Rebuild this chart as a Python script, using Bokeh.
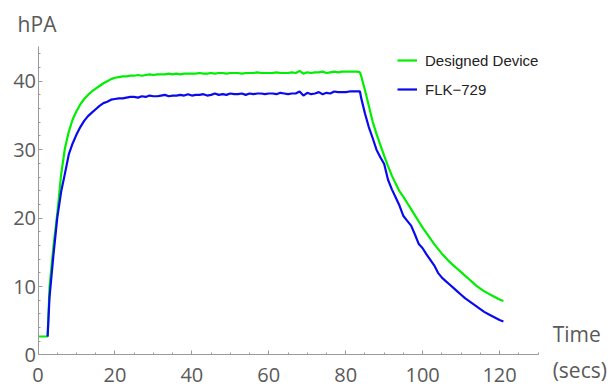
from bokeh.plotting import figure
from bokeh.models import Range1d, FixedTicker, Label
from bokeh.embed import file_html
from bokeh.resources import INLINE

# ---------------- data ----------------
t_green = [0, 1, 2, 2.5, 3, 4, 5, 6, 7, 8, 9, 10, 11, 12, 13, 14, 15, 16, 17, 18,
           19, 20, 21, 22, 23, 24, 25, 26, 27, 28, 29, 30, 31, 32, 33, 34, 35, 36, 37, 38,
           39, 40, 41, 42, 43, 44, 45, 46, 47, 48, 49, 50, 51, 52, 53, 54, 55, 56, 57, 58,
           59, 60, 61, 62, 63, 64, 65, 66, 67, 68, 69, 70, 71, 72, 73, 74, 75, 76, 77, 78,
           79, 80, 81, 82, 83, 83.7, 84, 85, 86, 87, 88, 89, 90, 91, 92, 93, 94, 95, 96, 97,
           98, 99, 100, 101, 102, 103, 104, 105, 106, 107, 108, 109, 110, 111, 112, 113, 114,
           115, 116, 117, 118, 119, 120, 121]
v_green = [2.7, 2.7, 2.7, 2.7, 10.0, 15.8, 20.6, 26.3, 30.2, 32.6, 34.4, 35.6, 36.6, 37.4, 38.0, 38.5, 38.9, 39.3, 39.7, 40.0,
           40.3, 40.5, 40.6, 40.7, 40.7, 40.8, 40.8, 40.9, 40.8, 40.9, 41.0, 40.9, 41.0, 41.0, 41.0, 41.1, 41.0, 41.1, 41.0, 41.1,
           41.1, 41.1, 41.1, 41.2, 41.1, 41.1, 41.2, 41.1, 41.2, 41.2, 41.1, 41.2, 41.2, 41.2, 41.1, 41.2, 41.2, 41.2, 41.3, 41.2,
           41.2, 41.2, 41.2, 41.3, 41.2, 41.2, 41.2, 41.3, 41.2, 41.5, 41.1, 41.3, 41.2, 41.3, 41.3, 41.4, 41.2, 41.3, 41.4, 41.3,
           41.4, 41.4, 41.4, 41.4, 41.4, 41.3, 40.8, 38.7, 36.4, 34.1, 32.3, 30.7, 29.1, 27.6, 26.2, 25.0, 23.9, 23.1, 22.2, 21.3,
           20.4, 19.5, 18.6, 17.8, 17.0, 16.2, 15.5, 14.8, 14.2, 13.6, 13.1, 12.6, 12.1, 11.6, 11.1, 10.6, 10.1,
           9.7, 9.3, 9.0, 8.7, 8.4, 8.1, 7.9]

t_blue = [2.5, 3, 4, 5, 6, 7, 8, 9, 10, 11, 12, 13, 14, 15, 16, 17, 18,
          19, 20, 21, 22, 23, 24, 25, 26, 27, 28, 29, 30, 31, 32, 33, 34, 35, 36, 37, 38,
          39, 40, 41, 42, 43, 44, 45, 46, 47, 48, 49, 50, 51, 52, 53, 54, 55, 56, 57, 58,
          59, 60, 61, 62, 63, 64, 65, 66, 67, 68, 69, 70, 71, 72, 73, 74, 75, 76, 77, 78,
          79, 80, 81, 82, 83, 83.7, 84, 85, 86, 87, 88, 89, 90, 91, 92, 93, 94, 95, 96, 97,
          98, 99, 100, 101, 102, 103, 104, 105, 106, 107, 108, 109, 110, 111, 112, 113, 114,
          115, 116, 117, 118, 119, 120, 121]
v_blue = [2.7, 8.5, 14.5, 20.0, 23.8, 26.5, 29.3, 30.9, 32.2, 33.3, 34.2, 34.9, 35.4, 35.9, 36.4, 36.8, 37.0,
          37.3, 37.4, 37.5, 37.5, 37.6, 37.7, 37.7, 37.6, 37.8, 37.7, 37.9, 37.8, 37.8, 37.9, 38.0, 37.8, 37.9, 37.9, 38.0, 37.9,
          38.1, 37.9, 38.0, 38.0, 38.1, 37.9, 38.0, 38.2, 38.0, 38.1, 38.0, 38.2, 38.1, 38.1, 38.2, 38.0, 38.2, 38.1, 38.2, 38.2,
          38.1, 38.2, 38.2, 38.1, 38.3, 38.2, 38.1, 38.2, 38.2, 38.5, 37.9, 38.3, 38.1, 38.2, 38.4, 38.1, 38.3, 38.2, 38.5, 38.4,
          38.4, 38.4, 38.5, 38.5, 38.5, 38.5, 37.6, 35.3, 33.3, 31.7, 30.0, 28.9, 27.9, 25.6, 24.2, 23.0, 21.8, 20.3, 19.6, 18.9,
          17.6, 16.2, 15.6, 14.7, 13.9, 13.1, 12.0, 11.3, 10.8, 10.3, 9.8, 9.3, 8.8, 8.3, 7.9, 7.5, 7.1,
          6.7, 6.3, 6.0, 5.7, 5.4, 5.1, 4.9]

x_ticks = [0, 20, 40, 60, 80, 100, 120]
x_minor = [5, 10, 15, 25, 30, 35, 45, 50, 55, 65, 70, 75, 85, 90, 95, 105, 110, 115, 125, 130]
y_ticks = [0, 10, 20, 30, 40]
y_minor = [2, 4, 6, 8, 12, 14, 16, 18, 22, 24, 26, 28, 32, 34, 36, 38, 42, 44]

series_names = ["Designed Device", "FLK\u2212729"]
y_title = "hPA"
x_title_1 = "Time"
x_title_2 = "(secs)"

# ---------------- figure ----------------
FONT = "Open Sans"
AXIS_COLOR = "#9a9a9a"
TEXT_COLOR = "#5a5a5a"

W, H = 616, 387
# axes drawn inside a frame that fills the whole canvas, bounded to the data span
p = figure(width=W, height=H, output_backend="svg", toolbar_location=None,
           x_range=Range1d(-9.75, 150.4), y_range=Range1d(-4.75, 51.79),
           min_border=0, min_border_left=0, min_border_right=0,
           min_border_top=0, min_border_bottom=0)
p.outline_line_color = None
p.grid.visible = False
p.background_fill_color = "white"
p.border_fill_color = "white"

p.line(t_green, v_green, line_color="#00ee00", line_width=2.2, legend_label=series_names[0])
p.line(t_blue, v_blue, line_color="#0a0aee", line_width=2.2, legend_label=series_names[1])

p.xaxis.ticker = FixedTicker(ticks=x_ticks, minor_ticks=x_minor)
p.yaxis.ticker = FixedTicker(ticks=y_ticks, minor_ticks=y_minor)
p.xaxis.fixed_location = 0
p.yaxis.fixed_location = 0
p.xaxis.bounds = (0, 130)
p.yaxis.bounds = (0, 45)

for ax in (p.xaxis, p.yaxis):
    ax.axis_line_color = AXIS_COLOR
    ax.axis_line_width = 1
    ax.major_tick_line_color = AXIS_COLOR
    ax.minor_tick_line_color = AXIS_COLOR
    ax.major_tick_in = 4
    ax.major_tick_out = 0
    ax.minor_tick_in = 2
    ax.minor_tick_out = 0
    ax.major_label_text_font = FONT
    ax.major_label_text_font_size = "20px"
    ax.major_label_text_color = TEXT_COLOR
p.xaxis.major_label_standoff = 13
p.yaxis.major_label_standoff = 2

for txt, xx, yy in [(y_title, -5.3, 48.4), (x_title_1, 133.8, 3.1), (x_title_2, 133.8, -2.15)]:
    p.add_layout(Label(x=xx, y=yy, text=txt, text_font=FONT, text_font_size="21px",
                       text_color=TEXT_COLOR, text_baseline="alphabetic", text_align="left"))

lg = p.legend[0]
lg.location = (397, 288)
lg.border_line_color = None
lg.background_fill_alpha = 0
lg.padding = 0
lg.margin = 0
lg.spacing = 9
lg.glyph_width = 20
lg.glyph_height = 20
lg.label_height = 20
lg.label_standoff = 8
lg.label_text_font = "Liberation Sans"
lg.label_text_font_size = "15px"
lg.label_text_color = "#222222"

open("out.html", "w").write(file_html(p, INLINE))
